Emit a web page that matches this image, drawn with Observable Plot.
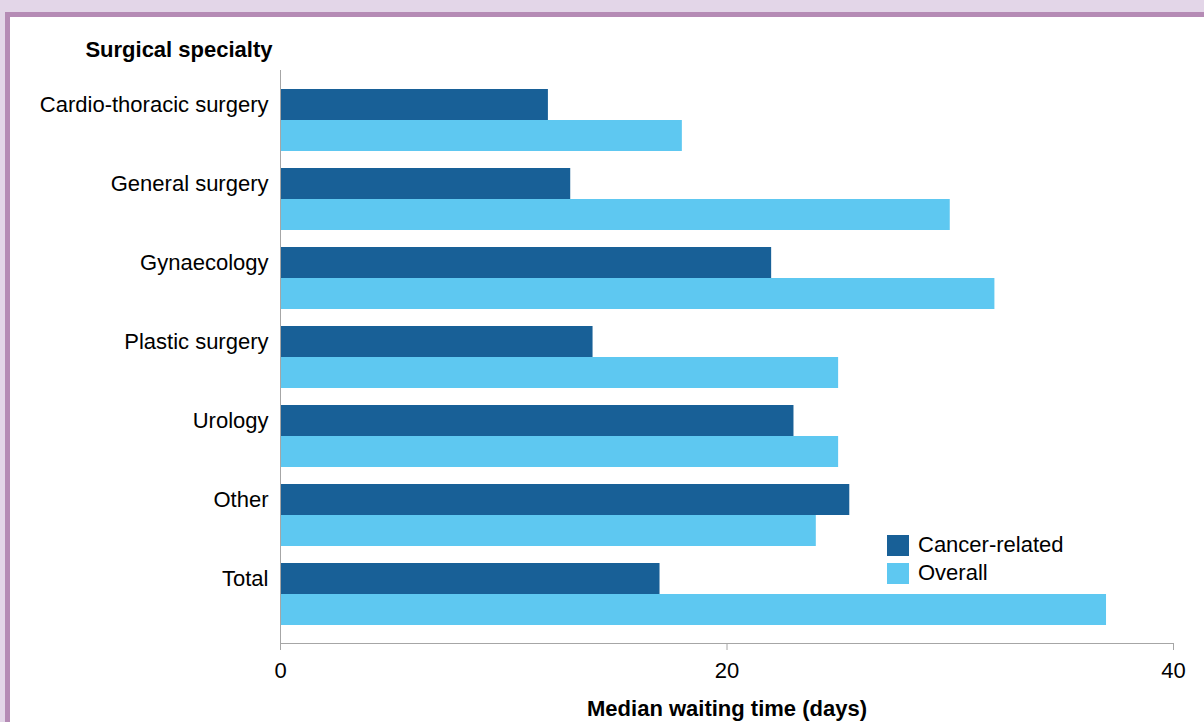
<!DOCTYPE html>
<html>
<head>
<meta charset="utf-8">
<script src="https://cdn.jsdelivr.net/npm/d3@7"></script>
<script src="https://cdn.jsdelivr.net/npm/@observablehq/plot@0.6"></script>
<style>
  html, body { margin: 0; padding: 0; }
  body { width: 1204px; height: 722px; background: #e3d6e8; position: relative; overflow: hidden;
         font-family: "Liberation Sans", Arial, sans-serif; }
  #frame { position: absolute; left: 5px; top: 12px; right: -10px; bottom: -10px;
           border-top: 5px solid #b58bb5; border-left: 5px solid #b58bb5; background: #fff; }
  #chart { position: absolute; left: 0; top: 0; }
  #legend { position: absolute; left: 887px; top: 531px; font-size: 22px; color: #000; }
  .item { display: flex; align-items: center; height: 28px; }
  .sw { width: 22px; height: 21px; margin-right: 9px; }
</style>
</head>
<body>
<div id="frame"></div>
<div id="chart"></div>
<div id="legend"></div>
<script>
const categories = ["Cardio-thoracic surgery", "General surgery", "Gynaecology", "Plastic surgery", "Urology", "Other", "Total"];
const cancerRelated = [12, 13, 22, 14, 23, 25.5, 17];
const overall = [18, 30, 32, 25, 25, 24, 37];
const seriesNames = ["Cancer-related", "Overall"];
const seriesColors = ["#186097", "#5ec8f1"];
const xTicks = [0, 20, 40];

const rows = categories.map((c, i) => ({category: c, cancer: cancerRelated[i], overall: overall[i]}));

const chart = Plot.plot({
  width: 1204,
  height: 722,
  marginLeft: 280,
  marginRight: 31,
  marginTop: 70,
  marginBottom: 79,
  style: {background: "transparent", fontFamily: "Liberation Sans, Arial, sans-serif", color: "#000"},
  x: {domain: [0, 40]},
  y: {domain: categories, paddingInner: 0.218, paddingOuter: 0.227},
  marks: [
    Plot.barX(rows, {y: "category", x: "cancer", fill: seriesColors[0], insetBottom: 31}),
    Plot.barX(rows, {y: "category", x: "overall", fill: seriesColors[1], insetTop: 31}),
    Plot.ruleX([0], {stroke: "#a6a6a6", strokeWidth: 1}),
    Plot.frame({anchor: "bottom", stroke: "#a6a6a6"}),
    Plot.axisX({ticks: xTicks, tickSize: 7, tickPadding: 12, stroke: "#a6a6a6", fill: "#000", fontSize: 22, label: null, tickFormat: d => String(d)}),
    Plot.axisY({ticks: [], label: null}),
    Plot.text(categories, {y: d => d, frameAnchor: "left", dx: -12, dy: -15.5, textAnchor: "end", fontSize: 22, fill: "#000"}),
    Plot.text(["Surgical specialty"], {frameAnchor: "top-left", dx: -8, dy: -20, textAnchor: "end", fontSize: 22, fontWeight: "bold", fill: "#000", dy: -29}),
    Plot.text(["Median waiting time (days)"], {frameAnchor: "bottom", dy: 72, fontSize: 22, fontWeight: "bold", fill: "#000"})
  ]
});
document.getElementById("chart").appendChild(chart);

const legend = document.getElementById("legend");
seriesNames.forEach((name, i) => {
  const item = document.createElement("div");
  item.className = "item";
  const sw = document.createElement("div");
  sw.className = "sw";
  sw.style.background = seriesColors[i];
  const lbl = document.createElement("span");
  lbl.textContent = name;
  item.appendChild(sw);
  item.appendChild(lbl);
  legend.appendChild(item);
});
</script>
</body>
</html>
